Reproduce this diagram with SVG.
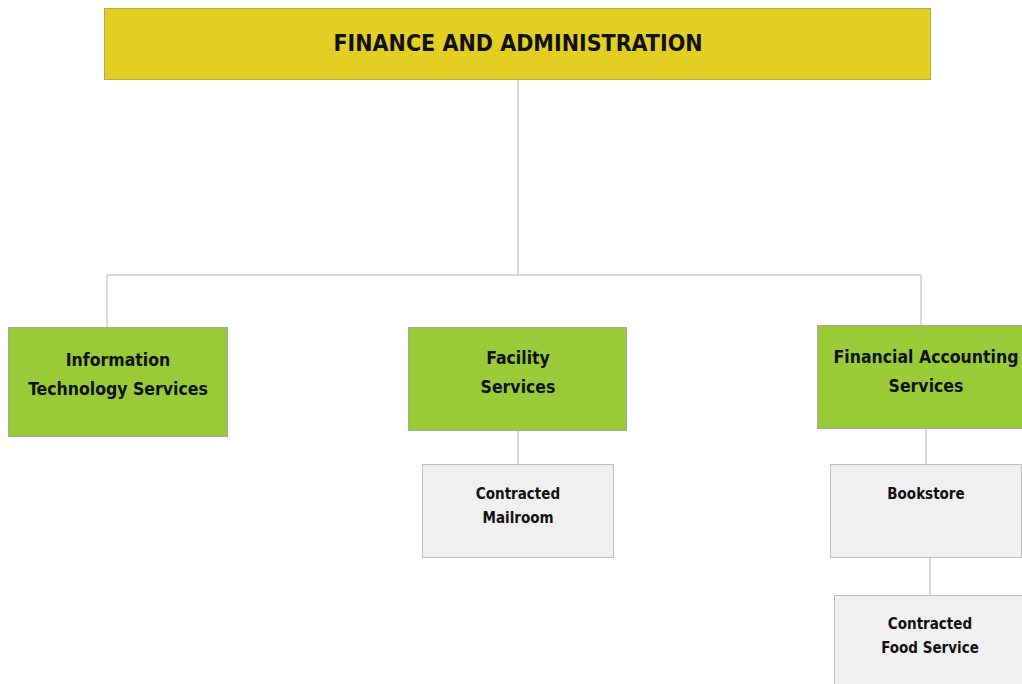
<svg xmlns="http://www.w3.org/2000/svg" width="1022" height="684" viewBox="0 0 1022 684">
<style>
.conn{stroke:#d9d9d9;stroke-width:2;fill:none}
.top{fill:#e3cf22;stroke:#b8a84a;stroke-width:1}
.green{fill:#99cb38;stroke:#a5a5a5;stroke-width:1}
.grey{fill:#f0f0f0;stroke:#bfbfbf;stroke-width:1}
text{font-family:"DejaVu Sans Condensed","DejaVu Sans",sans-serif;font-weight:bold;fill:#111;text-anchor:middle}
.t1{font-size:23px}
.t2{font-size:17.5px}
.t3{font-size:15px}
</style>
<rect width="1022" height="684" fill="#ffffff"/>
<g id="connectors">
<path class="conn" d="M518 79V275M107 275H921M107 275V327M921 275V325"/>
<path class="conn" d="M518 430V464"/>
<path class="conn" d="M926 428V464"/>
<path class="conn" d="M930 557V595"/>
</g>
<g id="finance-admin">
<rect class="top" x="104.5" y="8.5" width="826" height="71"/>
<text class="t1" x="518" y="51">FINANCE AND ADMINISTRATION</text>
</g>
<g id="it-services">
<rect class="green" x="8.5" y="327.5" width="219" height="109"/>
<text class="t2" x="118" y="366">Information</text>
<text class="t2" x="118" y="395">Technology Services</text>
</g>
<g id="facility-services">
<rect class="green" x="408.5" y="327.5" width="218" height="103"/>
<text class="t2" x="518" y="364">Facility</text>
<text class="t2" x="518" y="393">Services</text>
</g>
<g id="financial-accounting">
<rect class="green" x="817.5" y="325.5" width="210" height="103"/>
<text class="t2" x="926" y="363">Financial Accounting</text>
<text class="t2" x="926" y="392">Services</text>
</g>
<g id="contracted-mailroom">
<rect class="grey" x="422.5" y="464.5" width="191" height="93"/>
<text class="t3" x="518" y="499">Contracted</text>
<text class="t3" x="518" y="523">Mailroom</text>
</g>
<g id="bookstore">
<rect class="grey" x="830.5" y="464.5" width="191" height="93"/>
<text class="t3" x="926" y="499">Bookstore</text>
</g>
<g id="contracted-food">
<rect class="grey" x="834.5" y="595.5" width="195" height="95"/>
<text class="t3" x="930" y="629">Contracted</text>
<text class="t3" x="930" y="653">Food Service</text>
</g>
</svg>
